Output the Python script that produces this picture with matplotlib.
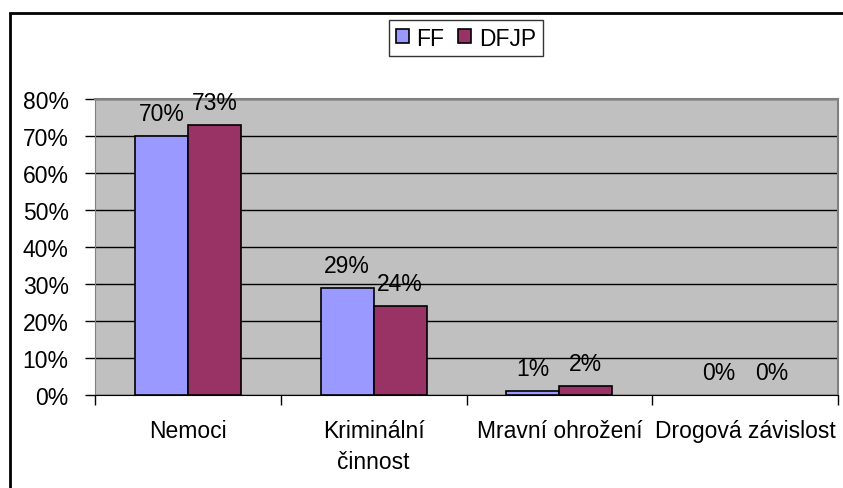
import numpy as np
import matplotlib.pyplot as plt
from matplotlib.patches import Rectangle
from matplotlib.ticker import FuncFormatter

categories = ['Nemoci', 'Kriminální\nčinnost', 'Mravní ohrožení', 'Drogová závislost']
ff = [70, 29, 1.1, 0]
dfjp = [73, 24, 2.4, 0]
series_names = ['FF', 'DFJP']

plt.rcParams['font.family'] = ['Liberation Sans', 'DejaVu Sans']
fs = 16.5

W, H = 843, 489
fig = plt.figure(figsize=(W / 100, H / 100), dpi=100)
ax = fig.add_axes([95 / W, 1 - 396 / H, (838 - 95) / W, (396 - 100) / H])
ax.set_facecolor('#C0C0C0')

x = np.arange(len(categories))
bw = 0.286
bars_all = []
for off, vals, col, name in [(-bw / 2, ff, '#9999FF', series_names[0]),
                             (bw / 2, dfjp, '#993366', series_names[1])]:
    edges = ['black' if v > 0 else 'none' for v in vals]
    b = ax.bar(x + off, vals, bw, color=col, edgecolor=edges, linewidth=1.2,
               label=name, zorder=3)
    bars_all.append((b, vals))

for bars, vals in bars_all:
    for b, v in zip(bars, vals):
        ax.annotate(f'{v:.0f}%', (b.get_x() + b.get_width() / 2, v),
                    xytext=(0, 11), textcoords='offset pixels',
                    ha='center', va='bottom', fontsize=fs, zorder=4)

ax.set_xlim(-0.5, len(categories) - 0.5)
ax.set_ylim(0, 80)
ax.set_yticks(range(0, 81, 10))
ax.yaxis.set_major_formatter(FuncFormatter(lambda v, p: f'{v:.0f}%'))
ax.yaxis.grid(True, color='black', linewidth=1, zorder=1)
ax.set_axisbelow(True)

ax.set_xticks(x)
ax.set_xticklabels(categories, linespacing=1.45)
ax.set_xticks(np.arange(-0.5, len(categories), 1), minor=True)
ax.tick_params(axis='x', which='major', length=0, pad=17, labelsize=fs)
ax.tick_params(axis='x', which='minor', length=7, width=1, direction='out')
ax.tick_params(axis='y', length=7, width=1, pad=12, labelsize=fs)

for s in ['top', 'right']:
    ax.spines[s].set_color('#808080')
    ax.spines[s].set_linewidth(1.5)
ax.spines['left'].set_color('#808080')
ax.spines['bottom'].set_color('black')

leg = ax.legend(loc='center', bbox_to_anchor=(466 / W, 1 - 39 / H),
                bbox_transform=fig.transFigure, ncol=2, fontsize=fs,
                frameon=True, fancybox=False, handlelength=0.55, handleheight=0.55,
                handletextpad=0.35, columnspacing=0.6, borderpad=0.3)
leg.get_frame().set_edgecolor('black')
leg.get_frame().set_linewidth(1)
for h in leg.legend_handles:
    h.set_edgecolor('black')
    h.set_linewidth(1.2)

fig.patches.append(Rectangle((10 / W, -0.1), 1.2, 1 - 14 / H + 0.1, transform=fig.transFigure,
                             fill=False, edgecolor='black', linewidth=2))

fig.savefig('out.png', dpi=100)
